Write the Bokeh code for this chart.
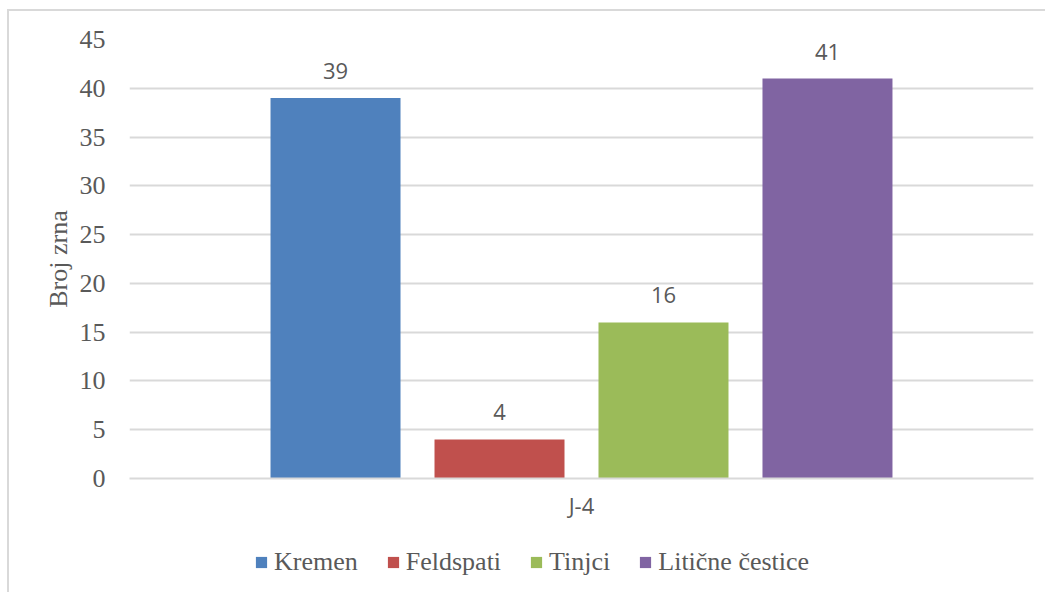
from bokeh.plotting import figure
from bokeh.layouts import column
from bokeh.models import (ColumnDataSource, FactorRange, Range1d, FixedTicker,
                          LabelSet, Legend, LegendItem)
from bokeh.core.properties import value
from bokeh.transform import dodge
from bokeh.embed import file_html
from bokeh.resources import INLINE

# ---- data ----
category = ["J-4"]
series = ["Kremen", "Feldspati", "Tinjci", "Litične čestice"]
values = [39, 4, 16, 41]
colors = ["#4F81BD", "#C0504D", "#9BBB59", "#8064A2"]
y_ticks = [0, 5, 10, 15, 20, 25, 30, 35, 40, 45]

GREY = "#595959"
GRID = "#d9d9d9"
SERIF = "Liberation Serif"
SANS = "Open Sans"

p = figure(width=1038, height=519, output_backend="svg", toolbar_location=None,
           x_range=FactorRange(factors=category, range_padding=0),
           y_range=Range1d(0, 45),
           min_border_left=120, min_border_right=14, min_border_top=28,
           min_border_bottom=52)
p.outline_line_color = None
p.styles = {"border-left": "2px solid #d9d9d9", "border-top": "2px solid #d9d9d9",
            "margin-left": "7px", "margin-top": "9px"}

# legend-only strip below the chart
pl = figure(width=1038, height=64, output_backend="svg", toolbar_location=None,
            x_range=FactorRange(factors=category), y_range=Range1d(1000, 1001),
            min_border=0)
pl.axis.visible = False
pl.grid.visible = False
pl.outline_line_color = None
pl.styles = {"border-left": "2px solid #d9d9d9", "margin-left": "7px"}

n = len(series)
step = 0.1814
bw = 0.1438
items = []
for i, (name, val, col) in enumerate(zip(series, values, colors)):
    off = (i - (n - 1) / 2) * step
    src = ColumnDataSource(dict(x=category, y=[val], t=[str(val)]))
    p.vbar(x=dodge("x", off, range=p.x_range), top="y", width=bw,
           source=src, fill_color=col, line_color=None)
    lbl = LabelSet(x=dodge("x", off, range=p.x_range), y="y", text="t", source=src,
                   text_align="center", text_baseline="alphabetic", y_offset=19,
                   text_font=value(SANS), text_font_size="22px", text_color=GREY)
    p.add_layout(lbl)
    rl = pl.vbar(x="x", top="y", width=bw, source=src, fill_color=col, line_color=None)
    items.append(LegendItem(label=name, renderers=[rl]))

# y axis
p.yaxis.ticker = FixedTicker(ticks=y_ticks)
p.yaxis.axis_line_color = None
p.yaxis.major_tick_line_color = None
p.yaxis.minor_tick_line_color = None
p.yaxis.major_label_standoff = 18
p.yaxis.major_label_text_font = SERIF
p.yaxis.major_label_text_font_size = "26px"
p.yaxis.major_label_text_color = GREY
p.yaxis.axis_label = "Broj zrna"
p.yaxis.axis_label_text_font = SERIF
p.yaxis.axis_label_text_font_size = "26px"
p.yaxis.axis_label_text_font_style = "normal"
p.yaxis.axis_label_text_color = GREY
p.yaxis.axis_label_standoff = 4

# x axis
p.xaxis.axis_line_color = GRID
p.xaxis.axis_line_width = 2
p.xaxis.major_tick_line_color = None
p.xaxis.minor_tick_line_color = None
p.xaxis.major_label_standoff = 5
p.xaxis.major_label_text_font = SANS
p.xaxis.major_label_text_font_size = "22px"
p.xaxis.major_label_text_color = GREY

p.xgrid.grid_line_color = None
p.ygrid.grid_line_color = GRID
p.ygrid.grid_line_width = 2

legend = Legend(items=items, orientation="horizontal", location=(125, 15),
                label_text_font=SERIF, label_text_font_size="26px",
                label_text_color=GREY, glyph_width=14, glyph_height=14,
                label_standoff=6, spacing=28, padding=0, margin=0,
                border_line_color=None, background_fill_alpha=0)
pl.add_layout(legend)

layout = column(p, pl, spacing=0)
open("out.html", "w").write(file_html(layout, INLINE))
